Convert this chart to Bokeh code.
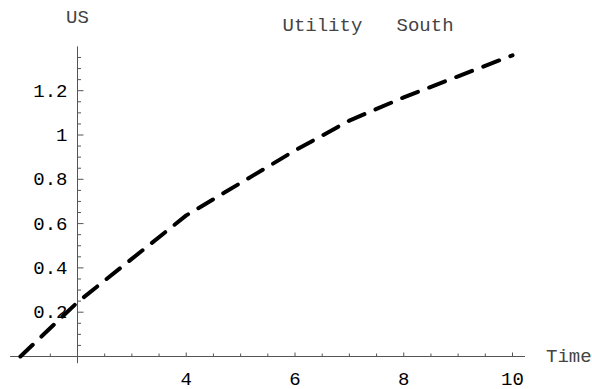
from bokeh.plotting import figure
from bokeh.models import Range1d, Label, ColumnDataSource
from bokeh.core.properties import value
from bokeh.embed import file_html
from bokeh.resources import INLINE

# ---- data ----
time = [0.95, 2, 4, 6, 7, 8, 10]
utility = [0.0, 0.245, 0.637, 0.93, 1.065, 1.17, 1.36]

x_major = [4, 6, 8, 10]
x_major_labels = ["4", "6", "8", "10"]
x_minor = [1.0, 1.5, 2.5, 3.0, 3.5, 4.5, 5.0, 5.5, 6.5, 7.0, 7.5, 8.5, 9.0, 9.5]
y_major = [0.2, 0.4, 0.6, 0.8, 1.0, 1.2]
y_major_labels = ["0.2", "0.4", "0.6", "0.8", "1", "1.2"]
y_minor = [0.05, 0.1, 0.15, 0.25, 0.3, 0.35, 0.45, 0.5, 0.55, 0.65, 0.7, 0.75,
           0.85, 0.9, 0.95, 1.05, 1.1, 1.15, 1.25, 1.3, 1.35]
x_axis_span = [0.76, 10.23]
y_axis_span = [-0.03, 1.40]
x_origin = 2
y_origin = 0

FONT = value("Liberation Mono")
FS = "19px"
AXIS_COLOR = "#555555"

W, H = 592, 389
xs = 54.375
ys = 221.5
x0 = 2 - 77 / xs
y1 = 356 / ys

p = figure(width=W, height=H, output_backend="svg", toolbar_location=None,
           x_range=Range1d(x0, x0 + W / xs), y_range=Range1d(y1 - H / ys, y1),
           x_axis_type=None, y_axis_type=None, min_border=0,
           outline_line_color=None, background_fill_color="white",
           border_fill_color="white")
p.xgrid.visible = False
p.ygrid.visible = False

# axis lines
p.segment(x0=[x_axis_span[0]], y0=[y_origin], x1=[x_axis_span[1]], y1=[y_origin],
          line_color=AXIS_COLOR, line_width=1)
p.segment(x0=[x_origin], y0=[y_axis_span[0]], x1=[x_origin], y1=[y_axis_span[1]],
          line_color=AXIS_COLOR, line_width=1)

# x ticks (upwards)
p.ray(x=x_major, y=[y_origin] * len(x_major), length=4, length_units="screen",
      angle=1.5708, line_color=AXIS_COLOR, line_width=1)
p.ray(x=x_minor, y=[y_origin] * len(x_minor), length=3, length_units="screen",
      angle=1.5708, line_color=AXIS_COLOR, line_width=1)
# y ticks (rightwards)
p.ray(x=[x_origin] * len(y_major), y=y_major, length=6, length_units="screen",
      angle=0, line_color=AXIS_COLOR, line_width=1)
p.ray(x=[x_origin] * len(y_minor), y=y_minor, length=3.5, length_units="screen",
      angle=0, line_color=AXIS_COLOR, line_width=1)

# tick labels
p.text(x=x_major, y=[y_origin] * len(x_major), text=x_major_labels,
       y_offset=22, text_align="center", text_baseline="middle",
       text_font=FONT, text_font_size=FS, text_color="black")
p.text(x=[x_origin] * len(y_major), y=y_major, text=y_major_labels,
       x_offset=-10, text_align="right", text_baseline="middle",
       text_font=FONT, text_font_size=FS, text_color="black")

# curve
src = ColumnDataSource(dict(time=time, utility=utility))
p.line(x="time", y="utility", source=src, line_color="black", line_width=4,
       line_dash="17 12", line_cap="round", line_join="round")

# labels
p.add_layout(Label(x=x_origin, y=y_axis_span[1], text="US", y_offset=28,
                   text_align="center", text_baseline="middle",
                   text_font="Liberation Mono", text_font_size=FS))
p.add_layout(Label(x=x_axis_span[1], y=y_origin, text="Time", x_offset=21,
                   text_align="left", text_baseline="middle",
                   text_font="Liberation Mono", text_font_size=FS))
p.add_layout(Label(x=282, y=H - 25, x_units="screen", y_units="screen",
                   text="Utility\u00a0\u00a0\u00a0South", text_align="left",
                   text_baseline="middle",
                   text_font="Liberation Mono", text_font_size=FS))

open("out.html", "w").write(file_html(p, INLINE))
